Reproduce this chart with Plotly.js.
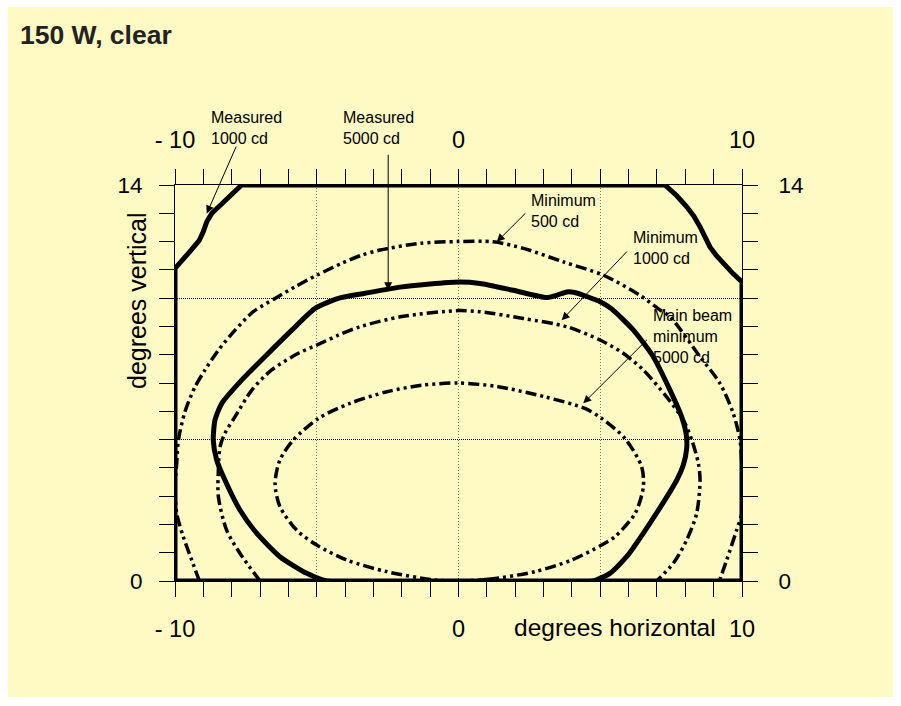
<!DOCTYPE html>
<html><head><meta charset="utf-8">
<script src="https://cdn.plot.ly/plotly-3.0.1.min.js"></script>
<style>html,body{margin:0;padding:0;background:#fff;}#chart{width:901px;height:706px;}</style>
</head><body><div id="chart"></div>
<script>
// Measured 1000 cd (thick outer outline)
const meas1000X = [-10, -10, -9.5, -9.15, -9.0, -8.88, -8.7, -8.4, -7.65, 7.28, 7.7, 8.05, 8.3, 8.52, 8.7, 8.87, 9.1, 9.34, 9.7, 10, 10, -10];
const meas1000Y = [0, 11.05, 11.62, 12.03, 12.35, 12.7, 13.0, 13.3, 14, 14, 13.62, 13.23, 12.9, 12.52, 12.12, 11.81, 11.5, 11.23, 10.85, 10.57, 0, 0];
// Measured 5000 cd (thick closed curve)
const meas5000X = [-4.65, -5.35, -6.3, -7.12, -7.71, -8.24, -8.53, -8.65, -8.59, -8.35, -7.65, -6.83, -5.88, -5.06, -4.24, -3.3, -2.06, 0, 0.76, 1.93, 3.11, 3.46, 3.82, 4.1, 4.55, 5.0, 5.4, 6.17, 6.87, 7.46, 7.87, 8.03, 8.05, 7.93, 7.7, 6.75, 5.93, 5.34, 4.87, 4.75, -4.65];
const meas5000Y = [0, 0.27, 0.86, 1.69, 2.51, 3.57, 4.28, 4.98, 5.69, 6.28, 7.1, 7.93, 8.87, 9.64, 9.99, 10.17, 10.39, 10.57, 10.52, 10.28, 10.02, 10.1, 10.22, 10.2, 10.05, 9.87, 9.62, 8.87, 7.93, 6.75, 5.81, 5.2, 4.7, 4.1, 3.57, 2.04, 0.86, 0.27, 0.04, 0, 0];
// Minimum 500 cd
const min500X = [-9.14, -9.41, -9.71, -9.94, -10, -9.94, -9.88, -9.65, -9.29, -8.94, -8.47, -7.88, -7.24, -6.47, -5.77, -5.0, -4.12, -3.41, -2.77, -1.36, 0, 1.23, 2.29, 3.7, 5.11, 6.4, 7.11, 7.46, 8.52, 9.22, 9.69, 9.93, 9.99, 10, 9.99, 9.81, 9.46, 9.2];
const min500Y = [0, 0.74, 1.57, 2.39, 3.3, 4.16, 4.98, 5.98, 6.87, 7.46, 8.16, 8.87, 9.52, 9.99, 10.4, 10.81, 11.23, 11.52, 11.7, 11.94, 12.0, 11.99, 11.76, 11.28, 10.81, 10.1, 9.58, 9.34, 7.93, 6.99, 5.93, 4.98, 4.16, 3.3, 2.39, 1.8, 0.74, 0];
// Minimum 1000 cd
const min1000X = [-7.0, -7.71, -8.18, -8.47, -8.47, -8.41, -8.24, -7.88, -7.29, -6.59, -5.65, -5.0, -4.24, -3.47, -2.0, 0, 0.76, 2.29, 3.82, 4.99, 5.81, 6.52, 7.34, 7.93, 8.23, 8.46, 8.52, 8.4, 8.05, 7.58, 6.99];
const min1000Y = [0, 0.98, 1.8, 2.98, 3.92, 4.75, 5.22, 5.81, 6.75, 7.46, 8.05, 8.34, 8.69, 8.99, 9.35, 9.56, 9.52, 9.28, 8.99, 8.52, 8.05, 7.46, 6.51, 5.69, 4.98, 4.16, 3.57, 2.39, 1.45, 0.63, 0];
// Main beam minimum 5000 cd
const min5000X = [0, 1.05, 2.7, 3.99, 5.05, 5.52, 6.23, 6.52, 6.46, 5.87, 5.05, 4.46, 3.05, 1.4, 0, -1.3, -2.53, -3.83, -4.94, -5.83, -6.3, -6.47, -6.3, -5.71, -5.0, -3.94, -2.53, -0.89, 0];
const min5000Y = [0, 0.06, 0.33, 0.74, 1.27, 1.57, 2.39, 3.33, 4.04, 5.04, 5.75, 6.1, 6.51, 6.87, 7.0, 6.92, 6.69, 6.28, 5.75, 4.98, 4.28, 3.45, 2.63, 1.8, 1.27, 0.74, 0.33, 0.04, 0];

const xTickVals = [-10, -5, 0, 5, 10];
const xTickText = ['- 10', '', '0', '', '10'];
const yTickVals = [0, 5, 10, 14];
const yTickText = ['0', '', '', '14'];

// Callout labels and arrows
const labelTexts = ['Measured<br>1000 cd', 'Measured<br>5000 cd', 'Minimum<br>500 cd', 'Minimum<br>1000 cd', 'Main beam<br>minimum<br>5000 cd'];
const labelLeftPx = [210, 342, 530, 632, 652];
const labelFirstLinePx = [118, 118, 201, 238, 316];
const arrowTipX = [-8.88, -2.48, 1.35, 3.64, 4.40];
const arrowTipY = [12.99, 10.28, 11.99, 9.22, 6.28];
const arrowTailX = [-7.82, -2.48, 2.41, 5.99, 6.70];
const arrowTailY = [15.41, 15.12, 13.05, 11.70, 8.58];

const FONT = 'Liberation Sans, Arial, sans-serif';
const dashDD = '11px,4px,3px,4px,3px,4px';
const L = 175, R = 159, T = 185, B = 125, W = 901, H = 706;
const pw = W - L - R, ph = H - T - B;
const px2x = p => (p - L) / pw;
const py2y = p => (H - B - p) / ph;
const LABEL_SIZE = 16;

const traces = [
  {x: min500X, y: min500Y, mode: 'lines', line: {color: '#000', width: 3.5, dash: dashDD, shape: 'spline', smoothing: 0.8}, hoverinfo: 'skip'},
  {x: min1000X, y: min1000Y, mode: 'lines', line: {color: '#000', width: 3.5, dash: dashDD, shape: 'spline', smoothing: 0.8}, hoverinfo: 'skip'},
  {x: min5000X, y: min5000Y, mode: 'lines', line: {color: '#000', width: 3.5, dash: dashDD, shape: 'spline', smoothing: 0.8}, hoverinfo: 'skip'},
  {x: meas5000X, y: meas5000Y, mode: 'lines', line: {color: '#000', width: 5, shape: 'spline', smoothing: 0.6}, hoverinfo: 'skip'},
  {x: meas1000X, y: meas1000Y, mode: 'lines', line: {color: '#000', width: 5, shape: 'linear'}, hoverinfo: 'skip'},
  {x: [0], y: [0], xaxis: 'x2', yaxis: 'y2', mode: 'markers', marker: {opacity: 0}, hoverinfo: 'skip'}
];

const annotations = [];
for (let i = 0; i < labelTexts.length; i++) {
  annotations.push({x: px2x(labelLeftPx[i] - 1), y: py2y(labelFirstLinePx[i] - LABEL_SIZE * 0.65 - 1), xref: 'paper', yref: 'paper',
    text: labelTexts[i], showarrow: false, xanchor: 'left', yanchor: 'top', align: 'left',
    font: {family: FONT, size: LABEL_SIZE, color: '#000'}});
  annotations.push({x: arrowTipX[i], y: arrowTipY[i], ax: arrowTailX[i], ay: arrowTailY[i], axref: 'x', ayref: 'y',
    xref: 'x', yref: 'y', text: '', showarrow: true, arrowhead: 2, arrowsize: 1.6, arrowwidth: 1, arrowcolor: '#000'});
}
annotations.push({x: px2x(512), y: py2y(627), xref: 'paper', yref: 'paper', text: 'degrees horizontal', showarrow: false,
  xanchor: 'left', yanchor: 'middle', font: {family: FONT, size: 24.5, color: '#000'}});
annotations.push({x: px2x(137), y: py2y(301), xref: 'paper', yref: 'paper', text: 'degrees vertical', showarrow: false,
  textangle: -90, xanchor: 'center', yanchor: 'middle', font: {family: FONT, size: 25, color: '#000'}});

const xCommon = {range: [-10, 10], tickvals: xTickVals, ticktext: xTickText, ticks: 'outside', ticklen: 15, tickwidth: 1, tickcolor: '#000',
  minor: {dtick: 1, tick0: 0, ticks: 'outside', ticklen: 15, tickwidth: 1, tickcolor: '#000', showgrid: false},
  showline: true, linecolor: '#000', linewidth: 1, zeroline: false, ticklabelstandoff: 12,
  tickfont: {family: FONT, size: 23.5, color: '#000'}, fixedrange: true};
const yCommon = {range: [0, 14], tickvals: yTickVals, ticktext: yTickText, ticks: 'outside', ticklen: 15, tickwidth: 1, tickcolor: '#000',
  minor: {dtick: 1, tick0: 0, ticks: 'outside', ticklen: 15, tickwidth: 1, tickcolor: '#000', showgrid: false},
  showline: true, linecolor: '#000', linewidth: 1, zeroline: false, ticklabelstandoff: 12,
  tickfont: {family: FONT, size: 22.5, color: '#000'}, fixedrange: true};

const layout = {
  width: W, height: H,
  margin: {l: L, r: R, t: T, b: B},
  paper_bgcolor: '#ffffff', plot_bgcolor: 'rgba(0,0,0,0)',
  showlegend: false,
  title: {text: '<b>150 W, clear</b>', x: 20/W, xanchor: 'left', xref: 'container', y: 1 - 35/H, yanchor: 'middle', yref: 'container',
    font: {family: FONT, size: 26.5, color: '#222'}},
  xaxis: Object.assign({}, xCommon, {side: 'bottom', showgrid: true, gridcolor: '#777', gridwidth: 1, griddash: '1px,2px'}),
  xaxis2: Object.assign({}, xCommon, {side: 'top', overlaying: 'x', showgrid: false}),
  yaxis: Object.assign({}, yCommon, {side: 'left', showgrid: true, gridcolor: '#000', gridwidth: 1, griddash: '1px,1px'}),
  yaxis2: Object.assign({}, yCommon, {side: 'right', overlaying: 'y', showgrid: false, ticklabelstandoff: 16}),
  shapes: [{type: 'rect', xref: 'paper', yref: 'paper', x0: px2x(8), x1: px2x(893), y0: py2y(697), y1: py2y(7),
    fillcolor: '#FFF9C4', line: {width: 0}, layer: 'below'}],
  annotations: annotations
};

Plotly.newPlot('chart', traces, layout, {displayModeBar: false, staticPlot: true});
</script></body></html>
